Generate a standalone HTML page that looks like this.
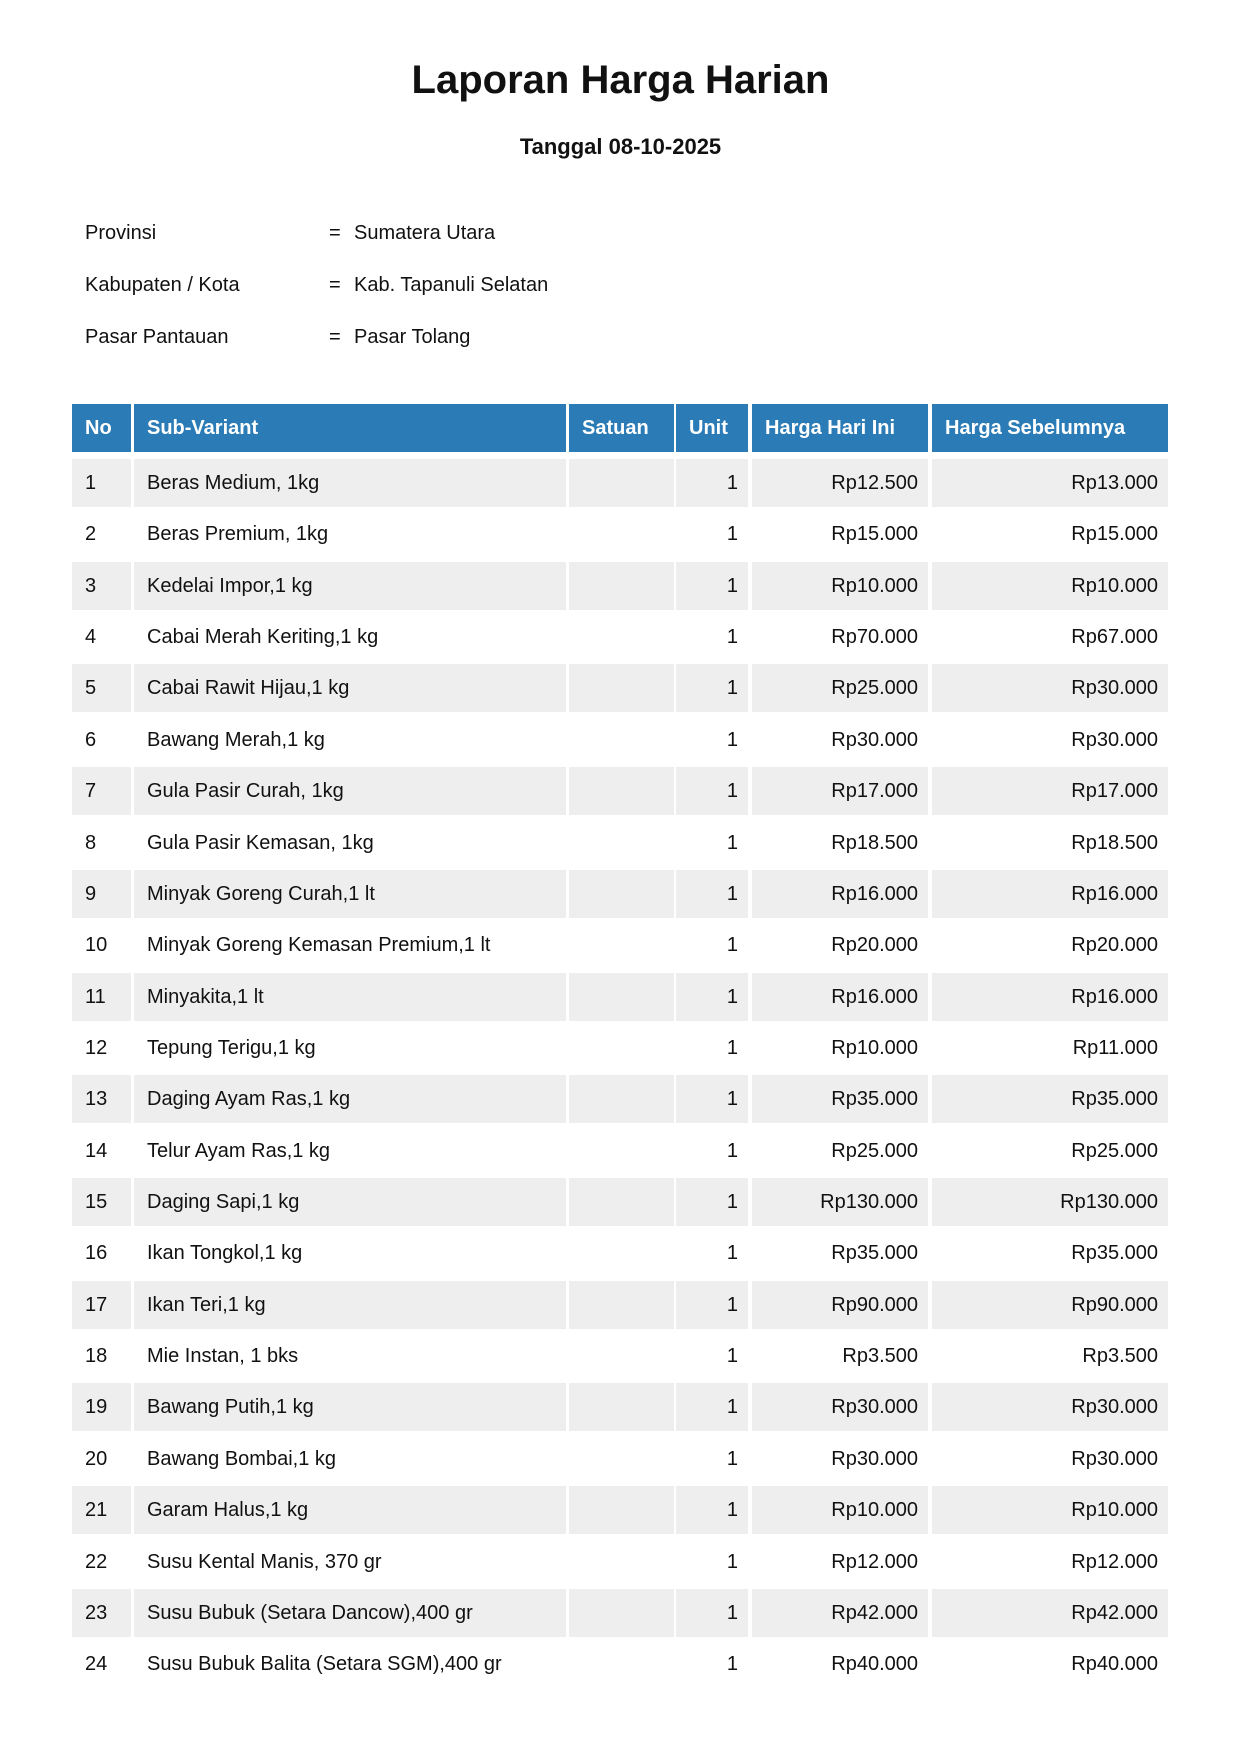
<!DOCTYPE html>
<html><head><meta charset="utf-8"><style>
body{margin:0;width:1241px;height:1755px;background:#fff;font-family:"Liberation Sans",sans-serif;color:#111;position:relative;overflow:hidden}
.a{position:absolute;white-space:nowrap}
.t{left:0;width:1241px;text-align:center;font-weight:bold}
.i{font-size:20px;line-height:24px}
.c{position:absolute;height:48px;line-height:48px;font-size:20px;box-sizing:border-box;white-space:nowrap}
.h{background:#2a7bb6;color:#fff;font-weight:bold}
.s{background:#eeeeee}
.r{text-align:right;padding-right:10px}
.l{padding-left:13px}
</style></head><body>
<div class="a t" style="top:56px;font-size:40px;line-height:48px">Laporan Harga Harian</div>
<div class="a t" style="top:134px;font-size:22px;line-height:26px">Tanggal 08-10-2025</div>
<div class="a i" style="left:85px;top:221px">Provinsi</div><div class="a i" style="left:329px;top:221px">=</div><div class="a i" style="left:354px;top:221px">Sumatera Utara</div>
<div class="a i" style="left:85px;top:273px">Kabupaten / Kota</div><div class="a i" style="left:329px;top:273px">=</div><div class="a i" style="left:354px;top:273px">Kab. Tapanuli Selatan</div>
<div class="a i" style="left:85px;top:325px">Pasar Pantauan</div><div class="a i" style="left:329px;top:325px">=</div><div class="a i" style="left:354px;top:325px">Pasar Tolang</div>
<div id="tb"></div>
<script>
(function(){
var cols=[[72,59],[134,432],[569,105],[676,72],[752,176],[932,236]];
var hd=["No","Sub-Variant","Satuan","Unit","Harga Hari Ini","Harga Sebelumnya"];
var d=[["Beras Medium, 1kg","Rp12.500","Rp13.000"],["Beras Premium, 1kg","Rp15.000","Rp15.000"],["Kedelai Impor,1 kg","Rp10.000","Rp10.000"],["Cabai Merah Keriting,1 kg","Rp70.000","Rp67.000"],["Cabai Rawit Hijau,1 kg","Rp25.000","Rp30.000"],["Bawang Merah,1 kg","Rp30.000","Rp30.000"],["Gula Pasir Curah, 1kg","Rp17.000","Rp17.000"],["Gula Pasir Kemasan, 1kg","Rp18.500","Rp18.500"],["Minyak Goreng Curah,1 lt","Rp16.000","Rp16.000"],["Minyak Goreng Kemasan Premium,1 lt","Rp20.000","Rp20.000"],["Minyakita,1 lt","Rp16.000","Rp16.000"],["Tepung Terigu,1 kg","Rp10.000","Rp11.000"],["Daging Ayam Ras,1 kg","Rp35.000","Rp35.000"],["Telur Ayam Ras,1 kg","Rp25.000","Rp25.000"],["Daging Sapi,1 kg","Rp130.000","Rp130.000"],["Ikan Tongkol,1 kg","Rp35.000","Rp35.000"],["Ikan Teri,1 kg","Rp90.000","Rp90.000"],["Mie Instan, 1 bks","Rp3.500","Rp3.500"],["Bawang Putih,1 kg","Rp30.000","Rp30.000"],["Bawang Bombai,1 kg","Rp30.000","Rp30.000"],["Garam Halus,1 kg","Rp10.000","Rp10.000"],["Susu Kental Manis, 370 gr","Rp12.000","Rp12.000"],["Susu Bubuk (Setara Dancow),400 gr","Rp42.000","Rp42.000"],["Susu Bubuk Balita (Setara SGM),400 gr","Rp40.000","Rp40.000"]];
var h="";
for(var j=0;j<6;j++)h+='<div class="c h l" style="left:'+cols[j][0]+'px;width:'+cols[j][1]+'px;top:404px">'+hd[j]+'</div>';
for(var i=0;i<d.length;i++){
 var yy=Math.round(459+i*51.36), s=(i%2==0)?' s':'';
 var v=[i+1,d[i][0],"","1",d[i][1],d[i][2]];
 for(var k=0;k<6;k++){var al=(k>=3)?' r':' l';
 h+='<div class="c'+s+al+'" style="left:'+cols[k][0]+'px;width:'+cols[k][1]+'px;top:'+yy+'px">'+v[k]+'</div>';}
}
document.getElementById('tb').innerHTML=h;
})();
</script>
</body></html>
